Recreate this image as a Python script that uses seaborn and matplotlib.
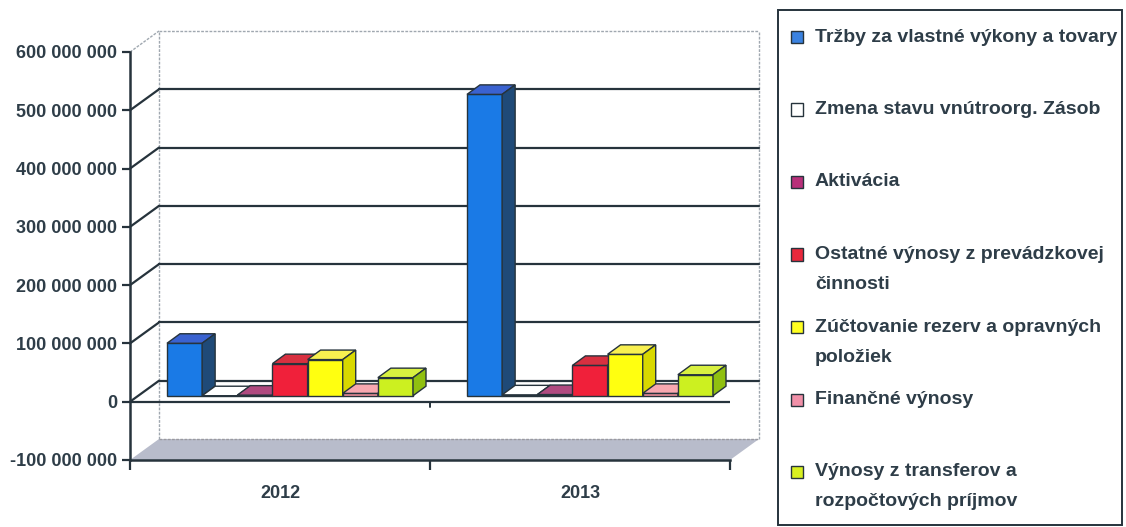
import numpy as np
import pandas as pd
import matplotlib
matplotlib.use("Agg")
import matplotlib.pyplot as plt
from matplotlib import font_manager
from matplotlib.patches import Polygon, Rectangle
import seaborn as sns

years = ["2012", "2013"]
series = [
    "Tržby za vlastné výkony a tovary",
    "Zmena stavu vnútroorg. Zásob",
    "Aktivácia",
    "Ostatné výnosy z prevádzkovej\nčinnosti",
    "Zúčtovanie rezerv a opravných\npoložiek",
    "Finančné výnosy",
    "Výnosy z transferov a\nrozpočtových príjmov",
]
values_2012 = [90_000_000, -1_000_000, 1_000_000, 55_000_000, 62_000_000, 4_000_000, 31_000_000]
values_2013 = [517_000_000, 1_500_000, 2_000_000, 52_000_000, 71_000_000, 4_000_000, 36_000_000]
front_colors = ["#1a7ae6", "#f4f6ee", "#9a3a6a", "#f0203a", "#ffff10", "#f4909a", "#ccf020"]
side_colors = ["#1f4a78", "#3a3a40", "#5a2040", "#a01828", "#d8d800", "#c06070", "#90c010"]
top_colors = ["#3a62d0", "#ffffff", "#b04a80", "#d83040", "#f8f050", "#f8a8b0", "#d8f040"]
legend_colors = ["#3a82e0", "#ffffff", "#b8307a", "#e8283c", "#ffff20", "#f090a8", "#d8f020"]

yticks = [-100_000_000, 0, 100_000_000, 200_000_000, 300_000_000, 400_000_000, 500_000_000, 600_000_000]

df = pd.DataFrame({
    "rok": np.repeat(years, len(series)),
    "polozka": series * len(years),
    "hodnota": values_2012 + values_2013,
})

W, H = 1126, 527
fig = plt.figure(figsize=(W / 100, H / 100), dpi=100)
sns.set_style("white")

# a narrow bold face if there is one, else Liberation Sans (Arial metrics)
names = {f.name for f in font_manager.fontManager.ttflist}
if "Liberation Sans Narrow" in names:
    plt.rcParams["font.family"] = ["Liberation Sans Narrow", "DejaVu Sans"]
    tick_size, leg_size = 16, 16
else:
    plt.rcParams["font.family"] = ["Liberation Sans", "DejaVu Sans"]
    tick_size, leg_size = 13, 14
text_col = "#2e3d48"
line_col = "#26333c"

# front plane of the chart, in pixels
left, right, top, bottom = 130, 730, 52, 460
ax = fig.add_axes([left / W, (H - bottom) / H, (right - left) / W, (bottom - top) / H])
ymin, ymax = -100_000_000, 600_000_000
px_x = 2.0 / (right - left)
px_y = (ymax - ymin) / (bottom - top)
DX, DY = 29 * px_x, 21 * px_y

sns.barplot(data=df, x="rok", y="hodnota", hue="polozka", hue_order=series,
            palette=front_colors, width=0.82, dodge=True, ax=ax, legend=False,
            saturation=1, edgecolor=line_col, linewidth=1)
ax.set_xlim(-0.5, 1.5)
ax.set_ylim(ymin, ymax)

# each bar with the index of its series
bars = [(b, i) for i, cont in enumerate(ax.containers) for b in cont]
bars.sort(key=lambda t: t[0].get_x())

# floor and walls
ax.add_patch(Polygon([(-0.5, ymin), (1.5, ymin), (1.5 + DX, ymin + DY), (-0.5 + DX, ymin + DY)],
                     closed=True, facecolor="#b8bccb", edgecolor="none", clip_on=False, zorder=0))
ax.plot([-0.5 + DX, 1.5 + DX], [ymin + DY, ymin + DY], color="#9a9aa0", lw=1, ls=(0, (2, 1)), clip_on=False, zorder=0.5)
ax.plot([-0.5 + DX, -0.5 + DX], [ymin + DY, ymax + DY], color="#a0a8b0", lw=1, ls=(0, (2, 1)), clip_on=False, zorder=0.5)
ax.plot([1.5 + DX, 1.5 + DX], [ymin + DY, ymax + DY], color="#a0a8b0", lw=1, ls=(0, (2, 1)), clip_on=False, zorder=0.5)
ax.plot([-0.5 + DX, 1.5 + DX], [ymax + DY, ymax + DY], color="#a0a8b0", lw=1, ls=(0, (2, 1)), clip_on=False, zorder=0.5)
ax.plot([-0.5, -0.5 + DX], [ymax, ymax + DY], color="#a0a8b0", lw=1, ls=(0, (2, 1)), clip_on=False, zorder=0.5)
for v in yticks[1:-1]:
    ax.plot([-0.5 + DX, 1.5 + DX], [v + DY, v + DY], color=line_col, lw=1.6, clip_on=False, zorder=0.6)
    ax.plot([-0.5, -0.5 + DX], [v, v + DY], color=line_col, lw=1.6, clip_on=False, zorder=0.6)
ax.plot([-0.5, 1.5], [0, 0], color=line_col, lw=1.6, zorder=0.7)
ax.plot([0.5, 0.5], [0, -5 * px_y], color=line_col, lw=1.4, zorder=0.7)

# 3D look of the bars
bx, by = 10 * px_x, 6 * px_y
ddx, ddy = 13 * px_x, 9.5 * px_y
for z, (b, i) in enumerate(bars):
    x, w = b.get_x() + bx, b.get_width()
    y0 = min(b.get_y(), b.get_y() + b.get_height()) + by
    y1 = max(b.get_y(), b.get_y() + b.get_height()) + by
    b.set_x(x)
    b.set_y(y0)
    b.set_height(y1 - y0)
    b.set_zorder(2 + z)
    ax.add_patch(Polygon([(x, y1), (x + w, y1), (x + w + ddx, y1 + ddy), (x + ddx, y1 + ddy)],
                         closed=True, facecolor=top_colors[i], edgecolor=line_col, lw=1, zorder=2 + z))
    ax.add_patch(Polygon([(x + w, y0), (x + w, y1), (x + w + ddx, y1 + ddy), (x + w + ddx, y0 + ddy)],
                         closed=True, facecolor=side_colors[i], edgecolor=line_col, lw=1, zorder=2 + z))

# axes styling
for s in ["top", "right"]:
    ax.spines[s].set_visible(False)
ax.spines["left"].set_color(line_col)
ax.spines["bottom"].set_color(line_col)
ax.spines["left"].set_linewidth(1.8)
ax.spines["bottom"].set_linewidth(1.8)
ax.set_yticks(yticks)
ax.set_yticklabels([f"{v:,}".replace(",", " ") for v in yticks])
ax.set_xticks([0, 1])
ax.set_xticklabels(years)
ax.set_xticks([-0.5, 0.5, 1.5], minor=True)
ax.tick_params(axis="y", length=6, width=1.6, color=line_col, labelsize=tick_size, labelcolor=text_col, pad=3, left=True)
ax.tick_params(axis="x", which="major", length=0, labelsize=tick_size, labelcolor=text_col, pad=18)
ax.tick_params(axis="x", which="minor", length=7, width=1.6, color=line_col, bottom=True)
for lab in ax.get_xticklabels() + ax.get_yticklabels():
    lab.set_fontweight("bold")
ax.set_xlabel("")
ax.set_ylabel("")
ax.set_facecolor("none")

# legend drawn by hand
lx0, lx1, ly0, ly1 = 778, 1122, 10, 525
fig.patches.append(Rectangle((lx0 / W, (H - ly1) / H), (lx1 - lx0) / W, (ly1 - ly0) / H,
                             transform=fig.transFigure, fill=False, edgecolor=line_col, lw=1.4))
for k, name in enumerate(series):
    yc = 37 + k * 72.5
    fig.patches.append(Rectangle((791 / W, (H - yc - 6) / H), 12 / W, 12 / H, transform=fig.transFigure,
                                 facecolor=legend_colors[k], edgecolor=line_col, lw=1))
    for j, line in enumerate(name.split("\n")):
        fig.text(815 / W, (H - yc - j * 30) / H, line, fontsize=leg_size, fontweight="bold",
                 color=text_col, va="center", ha="left")

fig.savefig("out.png", dpi=100, facecolor="white")
